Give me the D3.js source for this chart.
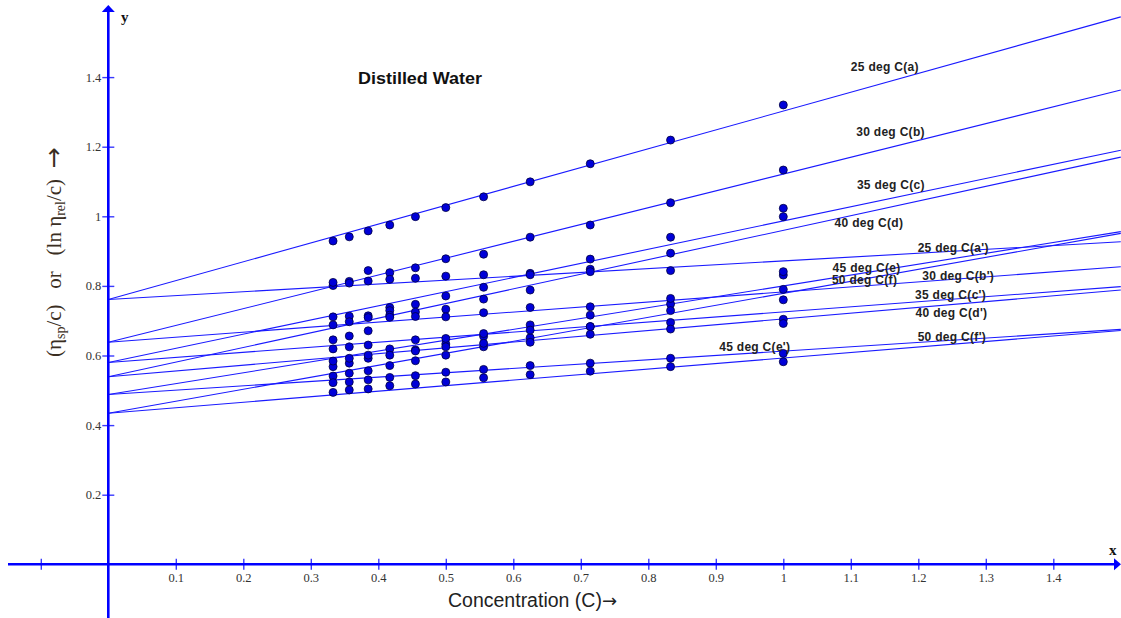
<!DOCTYPE html>
<html>
<head>
<meta charset="utf-8">
<script src="https://cdnjs.cloudflare.com/ajax/libs/d3/7.8.5/d3.min.js"></script>
<style>
body { margin: 0; background: #fff; }
svg { display: block; }
text { white-space: pre; }
</style>
</head>
<body>
<svg id="chart" width="1121" height="618"></svg>
<script>
// concentrations (g/dl)
var conc = [0.333, 0.357, 0.385, 0.417, 0.455, 0.5, 0.556, 0.625, 0.714, 0.833, 1.0];

// eta_sp/c at each temperature
var spA = [0.929, 0.941, 0.958, 0.975, 0.999, 1.025, 1.056, 1.099, 1.151, 1.219, 1.320];
var spB = [0.801, 0.813, 0.844, 0.838, 0.852, 0.878, 0.891, 0.940, 0.975, 1.039, 1.133];
var spC = [0.711, 0.713, 0.714, 0.738, 0.747, 0.771, 0.796, 0.836, 0.877, 0.940, 1.023];
var spD = [0.688, 0.697, 0.709, 0.729, 0.725, 0.733, 0.762, 0.788, 0.848, 0.894, 0.999];
var spE = [0.568, 0.578, 0.592, 0.619, 0.616, 0.633, 0.655, 0.688, 0.716, 0.748, 0.831];
var spF = [0.541, 0.549, 0.556, 0.571, 0.585, 0.601, 0.625, 0.651, 0.683, 0.729, 0.760];

// ln eta_rel / c at each temperature
var lnA = [0.810, 0.808, 0.814, 0.819, 0.822, 0.828, 0.832, 0.832, 0.841, 0.844, 0.841];
var lnB = [0.645, 0.656, 0.671, 0.716, 0.712, 0.711, 0.723, 0.738, 0.740, 0.764, 0.790];
var lnC = [0.619, 0.625, 0.630, 0.710, 0.645, 0.649, 0.663, 0.673, 0.683, 0.695, 0.704];
var lnD = [0.584, 0.592, 0.601, 0.601, 0.613, 0.625, 0.635, 0.638, 0.661, 0.676, 0.692];
var lnE = [0.522, 0.524, 0.530, 0.537, 0.542, 0.552, 0.560, 0.571, 0.578, 0.592, 0.606];
var lnF = [0.494, 0.501, 0.504, 0.513, 0.518, 0.524, 0.536, 0.545, 0.555, 0.568, 0.582];

var seriesNames = ["25 deg C(a)", "30 deg C(b)", "35 deg C(c)", "40 deg C(d)", "45 deg C(e)", "50 deg C(f)",
                   "25 deg C(a')", "30 deg C(b')", "35 deg C(c')", "40 deg C(d')", "45 deg C(e')", "50 deg C(f')"];
var seriesValues = [spA, spB, spC, spD, spE, spF, lnA, lnB, lnC, lnD, lnE, lnF];

// fitted straight lines: value at C = 0 and at C = 1.5
var fitAt0   = [0.761, 0.638, 0.580, 0.539, 0.488, 0.434, 0.761, 0.638, 0.580, 0.539, 0.488, 0.434];
var fitAt1_5 = [1.573, 1.363, 1.190, 1.170, 0.956, 0.951, 0.927, 0.855, 0.798, 0.788, 0.675, 0.672];

// where each line's name is written (in data units: C, y)
var labelAt = [[1.100, 1.430], [1.108, 1.243], [1.109, 1.090], [1.076, 0.982], [1.073, 0.853], [1.072, 0.817],
               [1.199, 0.910], [1.206, 0.829], [1.195, 0.775], [1.196, 0.724], [0.905, 0.624], [1.199, 0.654]];

var xTicks = [-0.1, 0.1, 0.2, 0.3, 0.4, 0.5, 0.6, 0.7, 0.8, 0.9, 1, 1.1, 1.2, 1.3, 1.4];
var yTicks = [0.2, 0.4, 0.6, 0.8, 1, 1.2, 1.4];

var svg = d3.select("#chart");
var W = 1121, H = 618;

var x = d3.scaleLinear().domain([0, 1]).range([108.3, 783.3]);
var y = d3.scaleLinear().domain([0, 1]).range([564.3, 216.3]);

var blue = "#0000ff";
var serif = "'Liberation Serif', 'Times New Roman', serif";
var sans = "'Liberation Sans', Arial, sans-serif";
var arrowFont = "'DejaVu Sans', sans-serif";

// fitted lines
var line = d3.line().x(function (d) { return x(d[0]); }).y(function (d) { return y(d[1]); });
svg.append("g").selectAll("path")
    .data(fitAt0)
    .enter().append("path")
    .attr("d", function (d, i) { return line([[0, d], [1.5, fitAt1_5[i]]]); })
    .attr("fill", "none")
    .attr("stroke", "#1a1aff")
    .attr("stroke-width", 1.1);

// axes
var gx = svg.append("g").attr("transform", "translate(0," + y(0) + ")")
    .call(d3.axisBottom(x).tickValues(xTicks).tickSize(5.5).tickPadding(3)
        .tickFormat(function (d) { return d < 0 ? "" : d3.format("")(d); }));
gx.select(".domain").remove();
gx.selectAll(".tick line").attr("y1", -5.5).attr("stroke", "#3a3aff").attr("stroke-width", 1.4);
gx.selectAll(".tick text").attr("font-family", serif).attr("font-size", 12.5).attr("fill", "#333");

var gy = svg.append("g").attr("transform", "translate(" + x(0) + ",0)")
    .call(d3.axisLeft(y).tickValues(yTicks).tickSize(6).tickPadding(1)
        .tickFormat(d3.format("")));
gy.select(".domain").remove();
gy.selectAll(".tick line").attr("x1", 6).attr("stroke", "#3a3aff").attr("stroke-width", 1.4);
gy.selectAll(".tick text").attr("font-family", serif).attr("font-size", 12.5).attr("fill", "#333");

// axis lines with arrow heads
svg.append("line").attr("x1", 8).attr("x2", W - 6).attr("y1", y(0)).attr("y2", y(0))
    .attr("stroke", blue).attr("stroke-width", 2.6);
svg.append("path")
    .attr("d", "M" + W + "," + y(0) + "L" + (W - 7) + "," + (y(0) - 6) + "L" + (W - 7) + "," + (y(0) + 6) + "Z")
    .attr("fill", blue);
svg.append("line").attr("x1", x(0)).attr("x2", x(0)).attr("y1", 11).attr("y2", H)
    .attr("stroke", blue).attr("stroke-width", 2.6);
svg.append("path")
    .attr("d", "M" + x(0) + ",5L" + (x(0) - 6.5) + ",12L" + (x(0) + 6.5) + ",12Z")
    .attr("fill", blue);

svg.append("text").attr("x", 121).attr("y", 22).text("y")
    .attr("font-family", serif).attr("font-weight", "bold").attr("font-size", 15).attr("fill", "#111");
svg.append("text").attr("x", 1109).attr("y", 555).text("x")
    .attr("font-family", serif).attr("font-weight", "bold").attr("font-size", 15).attr("fill", "#111");

// data points
var pts = [];
seriesValues.forEach(function (vals, s) {
    vals.forEach(function (v, i) { pts.push({ c: conc[i], v: v, s: s }); });
});
svg.append("g").selectAll("circle")
    .data(pts)
    .enter().append("circle")
    .attr("cx", function (d) { return x(d.c); })
    .attr("cy", function (d) { return y(d.v); })
    .attr("r", 4)
    .attr("fill", "#0000d8")
    .attr("stroke", "#000040")
    .attr("stroke-width", 0.8);

// line names
svg.append("g").selectAll("text")
    .data(seriesNames)
    .enter().append("text")
    .attr("x", function (d, i) { return x(labelAt[i][0]); })
    .attr("y", function (d, i) { return y(labelAt[i][1]); })
    .attr("dy", "0.35em")
    .attr("font-family", sans)
    .attr("font-weight", "bold")
    .attr("font-size", 12)
    .attr("letter-spacing", 0.3)
    .attr("fill", "#222")
    .text(function (d) { return d; });

// titles
svg.append("text").attr("x", 358).attr("y", 84)
    .attr("font-family", sans).attr("font-weight", "bold").attr("font-size", 16)
    .attr("textLength", 124).attr("lengthAdjust", "spacingAndGlyphs")
    .attr("fill", "#111").text("Distilled Water");

var xt = svg.append("text").attr("x", 448).attr("y", 607)
    .attr("font-family", sans).attr("font-size", 19.5).attr("fill", "#222");
xt.append("tspan").text("Concentration (C)");
xt.append("tspan").attr("font-family", arrowFont).attr("font-size", 18).text("\u2192");

var yt = svg.append("text")
    .attr("transform", "translate(61,357) rotate(-90)")
    .attr("font-family", serif).attr("font-size", 21).attr("fill", "#3a2e22");
yt.append("tspan").text("(\u03b7");
yt.append("tspan").attr("font-size", 14).attr("dy", 4).text("sp");
yt.append("tspan").attr("dy", -4).text("/c)   or   (ln \u03b7");
yt.append("tspan").attr("font-size", 14).attr("dy", 4).text("rel");
yt.append("tspan").attr("dy", -4).text("/c)  ");
yt.append("tspan").attr("font-family", arrowFont).attr("font-size", 25).attr("dy", 1).text("\u2192");
</script>
</body>
</html>
